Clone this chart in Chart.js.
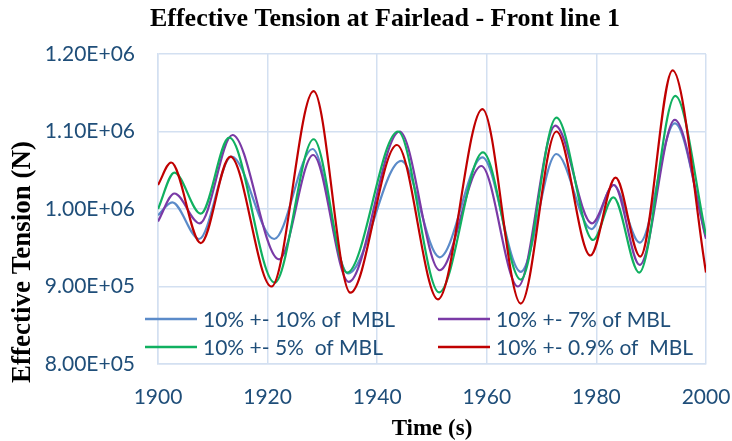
<!DOCTYPE html>
<html lang="en">

<head>
    <meta charset="UTF-8">
    <title>Effective Tension at Fairlead - Front line 1</title>
    <script src="https://cdn.jsdelivr.net/npm/chart.js"></script>
    <style>
        html, body { margin: 0; padding: 0; background: #fff; }
        #wrap { width: 732px; height: 441px; }
    </style>
</head>

<body>
    <div id="wrap"><canvas id="tensionChart" width="732" height="441"></canvas></div>
    <script>
        const chartTitle = 'Effective Tension at Fairlead - Front line 1';
        const xTitle = 'Time (s)';
        const yTitle = 'Effective Tension (N)';

        const seriesLabels = ['10% +- 10% of  MBL', '10% +- 7% of MBL', '10% +- 5%  of MBL', '10% +- 0.9% of  MBL'];
        const seriesColors = ['#5b8bc9', '#7a3aa6', '#10b060', '#c00000'];

        const t10 = [1900, 1902.6, 1907.5, 1913.4, 1921.2, 1928.2, 1934.7, 1944.4, 1951.4, 1959.2, 1966.2, 1972.7, 1979.1, 1983.1, 1987.9, 1994.3, 2000];
        const v10 = [992000, 1008600, 961300, 1067500, 961300, 1077400, 917000, 1062000, 937700, 1066700, 919000, 1071000, 974000, 1031000, 956600, 1110500, 964000];

        const t7 = [1900, 1903, 1907.6, 1913.6, 1922.1, 1928.3, 1934.8, 1944.1, 1951.4, 1959.0, 1965.7, 1972.5, 1979.2, 1983.2, 1987.9, 1994.3, 2000];
        const v7 = [984000, 1020000, 981500, 1095500, 935000, 1069700, 906000, 1100000, 921000, 1055500, 900000, 1107500, 981500, 1031000, 928000, 1115000, 961500];

        const t5 = [1900, 1903.0, 1907.8, 1913.0, 1921.3, 1928.4, 1934.5, 1943.8, 1951.3, 1959.3, 1966.2, 1972.7, 1979.4, 1983.1, 1987.8, 1994.4, 2000];
        const v5 = [1000000, 1047000, 994000, 1092000, 905000, 1090000, 918000, 1100000, 892500, 1073000, 909000, 1118000, 960000, 1015000, 918000, 1146000, 966500];

        const t09 = [1900, 1902.4, 1907.8, 1913.2, 1920.7, 1928.4, 1935.1, 1943.6, 1951.1, 1959.2, 1966.2, 1972.7, 1978.9, 1983.5, 1988.0, 1993.9, 2000];
        const v09 = [1031000, 1060000, 956000, 1067500, 900000, 1152000, 892000, 1082600, 883500, 1129000, 878000, 1100000, 940000, 1040400, 938500, 1179000, 918000];

        const xTicks = [1900, 1920, 1940, 1960, 1980, 2000];
        const xTickLabels = ['1900', '1920', '1940', '1960', '1980', '2000'];
        const yTicks = [800000, 900000, 1000000, 1100000, 1200000];
        const yTickLabels = ['8.00E+05', '9.00E+05', '1.00E+06', '1.10E+06', '1.20E+06'];

        const tickColor = '#1f4e79';
        const gridColor = '#d3e0f1';

        function toPoints(ts, vs) {
            return ts.map((t, i) => ({ x: t, y: vs[i] }));
        }

        const seriesData = [toPoints(t10, v10), toPoints(t7, v7), toPoints(t5, v5), toPoints(t09, v09)];

        // title, rotated y title and the two-column legend inside the plot
        const textPlugin = {
            id: 'textPlugin',
            afterDraw(chart) {
                const ctx = chart.ctx;
                ctx.save();
                ctx.fillStyle = '#000';
                ctx.textAlign = 'center';
                ctx.textBaseline = 'middle';
                ctx.font = 'bold 26px "Liberation Serif", "Times New Roman", serif';
                ctx.fillText(chartTitle, 385, 19);

                ctx.translate(23, 262);
                ctx.rotate(-Math.PI / 2);
                ctx.font = 'bold 27px "Liberation Serif", "Times New Roman", serif';
                ctx.fillText(yTitle, 0, 0);
                ctx.restore();

                ctx.save();
                ctx.font = '21px Lato, "Open Sans", sans-serif';
                ctx.textAlign = 'left';
                ctx.textBaseline = 'middle';
                const cols = [145, 438];
                const rows = [319, 347];
                chart.data.datasets.forEach((ds, i) => {
                    const x = cols[i % 2];
                    const y = rows[Math.floor(i / 2)];
                    ctx.strokeStyle = ds.borderColor;
                    ctx.lineWidth = 2.5;
                    ctx.beginPath();
                    ctx.moveTo(x, y);
                    ctx.lineTo(x + 52, y);
                    ctx.stroke();
                    ctx.fillStyle = tickColor;
                    ctx.fillText(ds.label, x + 58, y + 1);
                });
                ctx.restore();
            }
        };

        function renderChart() {
            const ctx = document.getElementById('tensionChart').getContext('2d');
            new Chart(ctx, {
                type: 'line',
                data: {
                    datasets: seriesData.map((pts, i) => ({
                        label: seriesLabels[i],
                        data: pts,
                        borderColor: seriesColors[i],
                        backgroundColor: seriesColors[i],
                        borderWidth: 2.2,
                        pointRadius: 0,
                        fill: false,
                        cubicInterpolationMode: 'monotone',
                        order: 4 - i
                    }))
                },
                options: {
                    responsive: false,
                    animation: false,
                    layout: { padding: { top: 54, right: 26, left: 0, bottom: 0 } },
                    plugins: {
                        legend: { display: false },
                        title: { display: false },
                        tooltip: { enabled: false }
                    },
                    scales: {
                        x: {
                            type: 'linear',
                            min: 1900,
                            max: 2000,
                            afterBuildTicks: (scale) => { scale.ticks = xTicks.map(v => ({ value: v })); },
                            afterFit: (scale) => {
                                scale.height = 77;
                                scale.paddingLeft = 0;
                                scale.paddingRight = 0;
                            },
                            grid: { color: gridColor, lineWidth: 1.5, drawTicks: false },
                            border: { color: gridColor, width: 1.5 },
                            ticks: {
                                padding: 21,
                                color: tickColor,
                                font: { family: 'Lato', size: 21 },
                                maxRotation: 0,
                                callback: (value) => xTickLabels[xTicks.indexOf(value)]
                            },
                            title: {
                                display: true,
                                text: xTitle,
                                color: '#000',
                                font: { family: '"Liberation Serif", "Times New Roman", serif', size: 23, weight: 'bold' },
                                padding: { top: 0, bottom: -2 }
                            }
                        },
                        y: {
                            min: 800000,
                            max: 1200000,
                            afterBuildTicks: (scale) => { scale.ticks = yTicks.map(v => ({ value: v })); },
                            afterFit: (scale) => { scale.width = 158; },
                            grid: { color: gridColor, lineWidth: 1.5, drawTicks: false },
                            border: { color: gridColor, width: 1.5 },
                            ticks: {
                                padding: 23,
                                color: tickColor,
                                font: { family: 'Lato', size: 21 },
                                callback: (value) => yTickLabels[yTicks.indexOf(value)]
                            }
                        }
                    }
                },
                plugins: [textPlugin]
            });
        }

        document.addEventListener('DOMContentLoaded', renderChart);
    </script>
</body>

</html>
